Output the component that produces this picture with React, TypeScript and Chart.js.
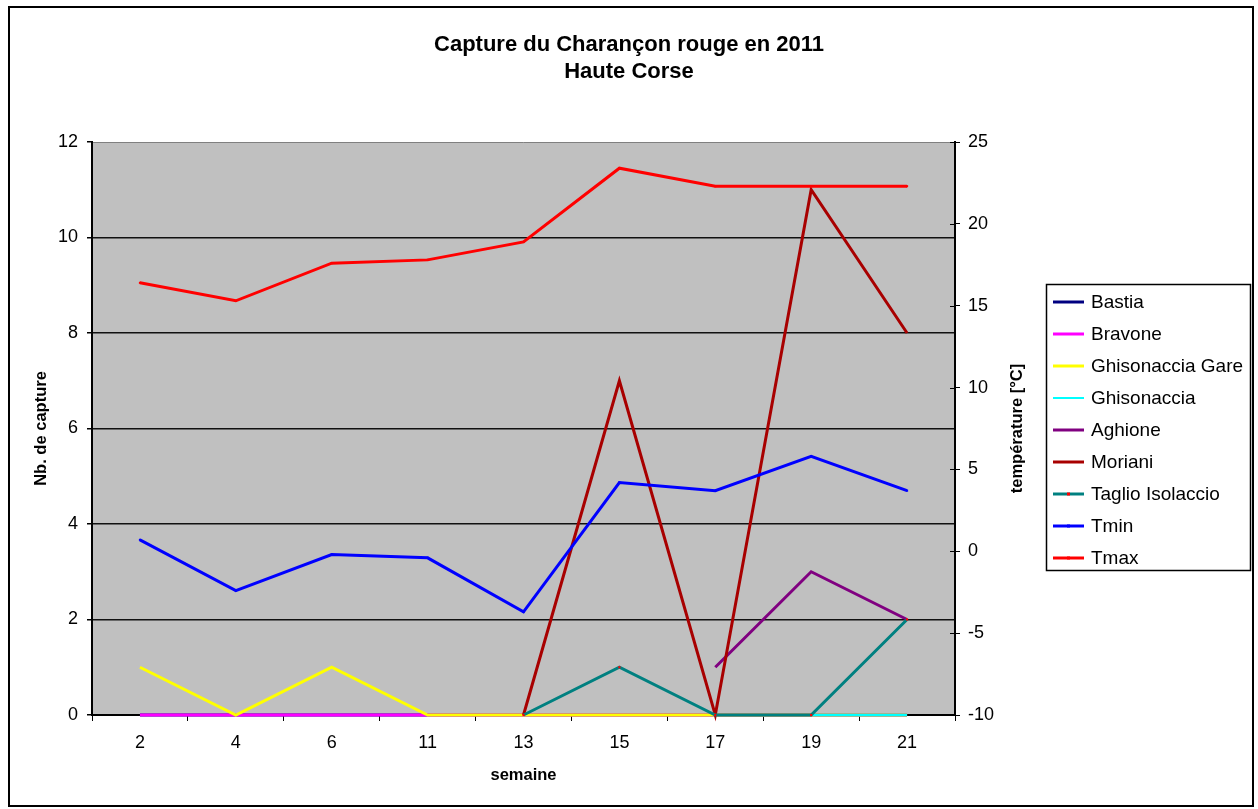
import React, { useEffect, useRef } from "react";
import { Chart, registerables } from "chart.js";

Chart.register(...registerables);

const weeks = ["2", "4", "6", "11", "13", "15", "17", "19", "21"];
const bastia = [0, 0, 0, 0, 0, 0, 0, 0, 0];
const bravone = [0, 0, 0, 0, 0, 0, 0, 0, 0];
const ghisonacciaGare = [1, 0, 1, 0, 0, 0, 0, 0, 0];
const ghisonaccia = [null, null, null, null, null, null, null, 0, 0];
const aghione = [null, null, null, null, null, null, 1, 3, 2];
const moriani = [null, null, null, null, 0, 7, 0, 11, 8];
const taglioIsolaccio = [null, null, null, null, 0, 1, 0, 0, 2];
const tmin = [0.7, -2.4, -0.2, -0.4, -3.7, 4.2, 3.7, 5.8, 3.7];
const tmax = [16.4, 15.3, 17.6, 17.8, 18.9, 23.4, 22.3, 22.3, 22.3];

const leftTicks = { min: 0, max: 12, step: 2 };
const rightTicks = { min: -10, max: 25, step: 5 };

const titleLines = ["Capture du Charançon rouge en 2011", "Haute Corse"];
const xTitle = "semaine";
const yTitle = "Nb. de capture";
const y1Title = "température [°C]";

const FONT = "'Liberation Sans', Arial, Helvetica, sans-serif";

const seriesDefs = [
  { label: "Bastia", data: bastia, color: "#000080", axis: "y", width: 3 },
  { label: "Bravone", data: bravone, color: "#FF00FF", axis: "y", width: 3 },
  { label: "Ghisonaccia Gare", data: ghisonacciaGare, color: "#FFFF00", axis: "y", width: 3 },
  { label: "Ghisonaccia", data: ghisonaccia, color: "#00FFFF", axis: "y", width: 3 },
  { label: "Aghione", data: aghione, color: "#800080", axis: "y", width: 3 },
  { label: "Moriani", data: moriani, color: "#A80000", axis: "y", width: 3 },
  { label: "Taglio Isolaccio", data: taglioIsolaccio, color: "#008080", axis: "y", width: 3, marker: "#FF0000" },
  { label: "Tmin", data: tmin, color: "#0000FF", axis: "y1", width: 3, marker: "#0000FF" },
  { label: "Tmax", data: tmax, color: "#FF0000", axis: "y1", width: 3, marker: "#FF0000" },
];

const decorPlugin = {
  id: "decor",
  beforeDraw(chart: any) {
    const { ctx, chartArea: a } = chart;
    ctx.save();
    ctx.fillStyle = "#FFFFFF";
    ctx.fillRect(0, 0, chart.width, chart.height);
    ctx.fillStyle = "#C0C0C0";
    ctx.fillRect(a.left, a.top, a.right - a.left, a.bottom - a.top);
    ctx.strokeStyle = "#808080";
    ctx.lineWidth = 1;
    ctx.beginPath();
    ctx.moveTo(a.left, a.top + 0.5);
    ctx.lineTo(a.right, a.top + 0.5);
    ctx.stroke();
    ctx.restore();
  },
  afterDraw(chart: any) {
    const { ctx, chartArea: a } = chart;
    ctx.save();
    // outer border
    ctx.strokeStyle = "#000";
    ctx.lineWidth = 2;
    ctx.strokeRect(9, 7, 1244, 799);

    // title
    ctx.fillStyle = "#000";
    ctx.textAlign = "center";
    ctx.textBaseline = "middle";
    ctx.font = `bold 22px ${FONT}`;
    ctx.fillText(titleLines[0], 629, 45);
    ctx.fillText(titleLines[1], 629, 72);

    // axis titles
    ctx.font = `bold 16.5px ${FONT}`;
    ctx.fillText(xTitle, (a.left + a.right) / 2, 775);
    const cy = (a.top + a.bottom) / 2;
    ctx.save();
    ctx.translate(41, cy);
    ctx.rotate(-Math.PI / 2);
    ctx.fillText(yTitle, 0, 0);
    ctx.restore();
    ctx.save();
    ctx.translate(1017, cy);
    ctx.rotate(-Math.PI / 2);
    ctx.fillText(y1Title, 0, 0);
    ctx.restore();

    // inner tick marks on right axis
    const y1 = chart.scales.y1;
    ctx.strokeStyle = "#000";
    ctx.lineWidth = 1;
    y1.ticks.forEach((t: any) => {
      const py = Math.round(y1.getPixelForValue(t.value)) + 0.5;
      ctx.beginPath();
      ctx.moveTo(a.right - 5, py);
      ctx.lineTo(a.right, py);
      ctx.stroke();
    });

    // legend
    const lx = 1046, ly = 284, lw = 204, lh = 286;
    ctx.fillStyle = "#FFFFFF";
    ctx.fillRect(lx, ly, lw, lh);
    ctx.strokeStyle = "#000";
    ctx.lineWidth = 1.5;
    ctx.strokeRect(lx + 0.5, ly + 0.5, lw, lh);
    ctx.font = `19px ${FONT}`;
    ctx.textAlign = "left";
    ctx.textBaseline = "middle";
    chart.data.datasets.forEach((ds: any, i: number) => {
      const y = 302 + i * 32;
      ctx.strokeStyle = ds.borderColor;
      ctx.lineWidth = ds.label === "Ghisonaccia" ? 2 : 3;
      ctx.beginPath();
      ctx.moveTo(1053, y);
      ctx.lineTo(1084, y);
      ctx.stroke();
      if (ds.pointRadius > 0) {
        ctx.fillStyle = ds.pointBackgroundColor;
        ctx.fillRect(1067, y - 1.5, 3, 3);
      }
      ctx.fillStyle = "#000";
      ctx.fillText(ds.label, 1091, y + 1);
    });
    ctx.restore();
  },
};

export default function App() {
  const canvasRef = useRef<HTMLCanvasElement | null>(null);

  useEffect(() => {
    const canvas = canvasRef.current;
    if (!canvas) return;
    const datasets = seriesDefs.map((s, i) => ({
      label: s.label,
      data: s.data,
      yAxisID: s.axis,
      borderColor: s.color,
      backgroundColor: s.color,
      borderWidth: s.label === "Ghisonaccia" ? 2.5 : s.width,
      pointRadius: s.marker ? 1.5 : 0,
      pointStyle: "rect",
      pointBackgroundColor: s.marker || s.color,
      pointBorderColor: s.marker || s.color,
      pointBorderWidth: 0,
      tension: 0,
      spanGaps: false,
      clip: false,
      order: seriesDefs.length - i,
      fill: false,
    }));

    const chart = new Chart(canvas, {
      type: "line",
      data: { labels: weeks, datasets },
      options: {
        responsive: false,
        animation: false,
        devicePixelRatio: 1,
        layout: { padding: { top: 142, right: 228, bottom: 0, left: 0 } },
        plugins: {
          legend: { display: false },
          title: { display: false },
          tooltip: { enabled: false },
        },
        scales: {
          x: {
            type: "category",
            offset: true,
            afterFit: (s: any) => {
              s.height = 94;
            },
            grid: {
              offset: true,
              drawOnChartArea: false,
              drawTicks: true,
              tickLength: 6,
              color: "#000",
              tickColor: "#000",
            },
            border: { display: true, color: "#000", width: 2 },
            ticks: {
              color: "#000",
              font: { family: FONT, size: 18 },
              maxRotation: 0,
              autoSkip: false,
              padding: 11,
            },
          },
          y: {
            type: "linear",
            position: "left",
            min: leftTicks.min,
            max: leftTicks.max,
            afterFit: (s: any) => {
              s.width = 92;
            },
            grid: {
              color: (c: any) => (c.tick && c.tick.value === leftTicks.max ? "rgba(0,0,0,0)" : "#111"),
              tickColor: "#000",
              lineWidth: 1.5,
              tickLength: 5,
            },
            border: { display: true, color: "#000", width: 2 },
            ticks: {
              stepSize: leftTicks.step,
              color: "#000",
              font: { family: FONT, size: 18 },
              padding: 9,
            },
          },
          y1: {
            type: "linear",
            position: "right",
            min: rightTicks.min,
            max: rightTicks.max,
            afterFit: (s: any) => {
              s.width = 75;
            },
            grid: {
              drawOnChartArea: false,
              tickColor: "#000",
              color: "#000",
              tickLength: 5,
            },
            border: { display: true, color: "#000", width: 2 },
            ticks: {
              stepSize: rightTicks.step,
              color: "#000",
              font: { family: FONT, size: 18 },
              padding: 8,
            },
          },
        },
      },
      plugins: [decorPlugin],
    } as any);

    return () => chart.destroy();
  }, []);

  return (
    <div style={{ position: "fixed", left: 0, top: 0, width: 1258, height: 809, background: "#fff" }}>
      <canvas ref={canvasRef} width={1258} height={809} style={{ display: "block" }} />
    </div>
  );
}
